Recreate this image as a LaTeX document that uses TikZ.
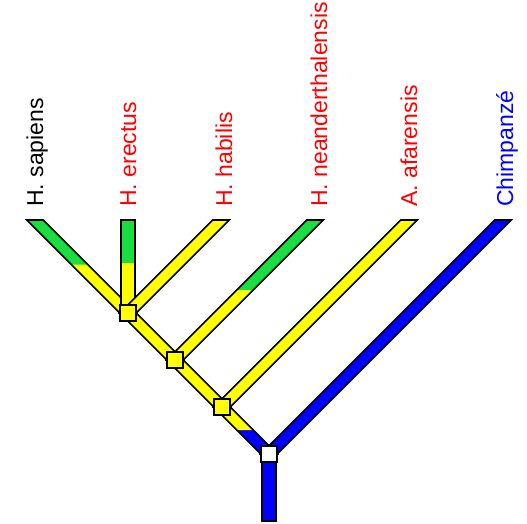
\documentclass[tikz,border=0pt]{standalone}
\usepackage{fontspec}
\setmainfont{Liberation Sans}
\usepackage{xcolor}
\usetikzlibrary{calc}
\definecolor{brgreen}{RGB}{24,222,64}
\definecolor{bryellow}{RGB}{255,255,0}
\definecolor{brblue}{RGB}{0,0,255}

%% one band: tip, end, half width, colour
\newcommand{\branch}[4]{%
	\filldraw[fill=#4, draw=black, line width=1.6] ($(#1)+(-#3,0)$) -- ($(#1)+(#3,0)$) -- ($(#2)+(#3,0)$) -- ($(#2)+(-#3,0)$) -- cycle;}
%% two coloured band: tip, end, half width, top colour, bottom colour, split
\newcommand{\branchtwo}[6]{%
	\coordinate (sp) at ($(#1)!#6!(#2)$);
	\fill[#5] ($(#1)+(-#3,0)$) -- ($(#1)+(#3,0)$) -- ($(#2)+(#3,0)$) -- ($(#2)+(-#3,0)$) -- cycle;
	\fill[#4] ($(#1)+(-#3,0)$) -- ($(#1)+(#3,0)$) -- ($(sp)+(#3,0)$) -- ($(sp)+(-#3,0)$) -- cycle;
	\draw[black, line width=1.6] ($(#1)+(-#3,0)$) -- ($(#1)+(#3,0)$) -- ($(#2)+(#3,0)$) -- ($(#2)+(-#3,0)$) -- cycle;}

\begin{document}
\begin{tikzpicture}[x=1pt, y=-1pt]
	\tikzstyle{junc}=[rectangle, draw=black, line width=1.6, minimum size=16, inner sep=0, fill=bryellow]
	\tikzstyle{lab}=[rotate=90, anchor=base west, inner sep=0, font=\fontsize{23}{27}\selectfont]

	\useasboundingbox (0,0) rectangle (527,524);

	%% tips and junctions
	\coordinate (t01) at (35,220);
	\coordinate (t02) at (128,220);
	\coordinate (t03) at (221,220);
	\coordinate (t04) at (315,220);
	\coordinate (t05) at (409,220);
	\coordinate (t06) at (503,220);
	\coordinate (c01) at (128,313);
	\coordinate (c02) at (175,360);
	\coordinate (c03) at (222,407);
	\coordinate (c00) at (269,454);
	\coordinate (b00) at (269,521);

	%% trunk
	\branchtwo{t01}{c01}{8.3}{brgreen}{bryellow}{0.48}
	\branch{c01}{c02}{8.3}{bryellow}
	\branch{c02}{c03}{8.3}{bryellow}
	\branchtwo{c03}{c00}{8.3}{bryellow}{brblue}{0.49}

	%% side branches
	\branchtwo{t02}{c01}{7}{brgreen}{bryellow}{0.46}
	\branch{t03}{c01}{8.3}{bryellow}
	\branchtwo{t04}{c02}{8.3}{brgreen}{bryellow}{0.5}
	\branch{t05}{c03}{8.3}{bryellow}
	\branch{t06}{c00}{8.3}{brblue}
	\branch{c00}{b00}{7}{brblue}

	\node (j01) at (c01) [junc]{};
	\node (j02) at (c02) [junc]{};
	\node (j03) at (c03) [junc]{};
	\node (j00) at (c00) [junc, fill=white]{};

	%% names
	\node (l01) at (43,207) [lab, text=black]{H. sapiens};
	\node (l02) at (136,207) [lab, text=red]{H. erectus};
	\node (l03) at (232,207) [lab, text=red]{H. habilis};
	\node (l04) at (327,207) [lab, text=red]{H. neanderthalensis};
	\node (l05) at (417,207) [lab, text=red]{A. afarensis};
	\node (l06) at (513,207) [lab, text=brblue]{Chimpanzé};
\end{tikzpicture}
\end{document}
